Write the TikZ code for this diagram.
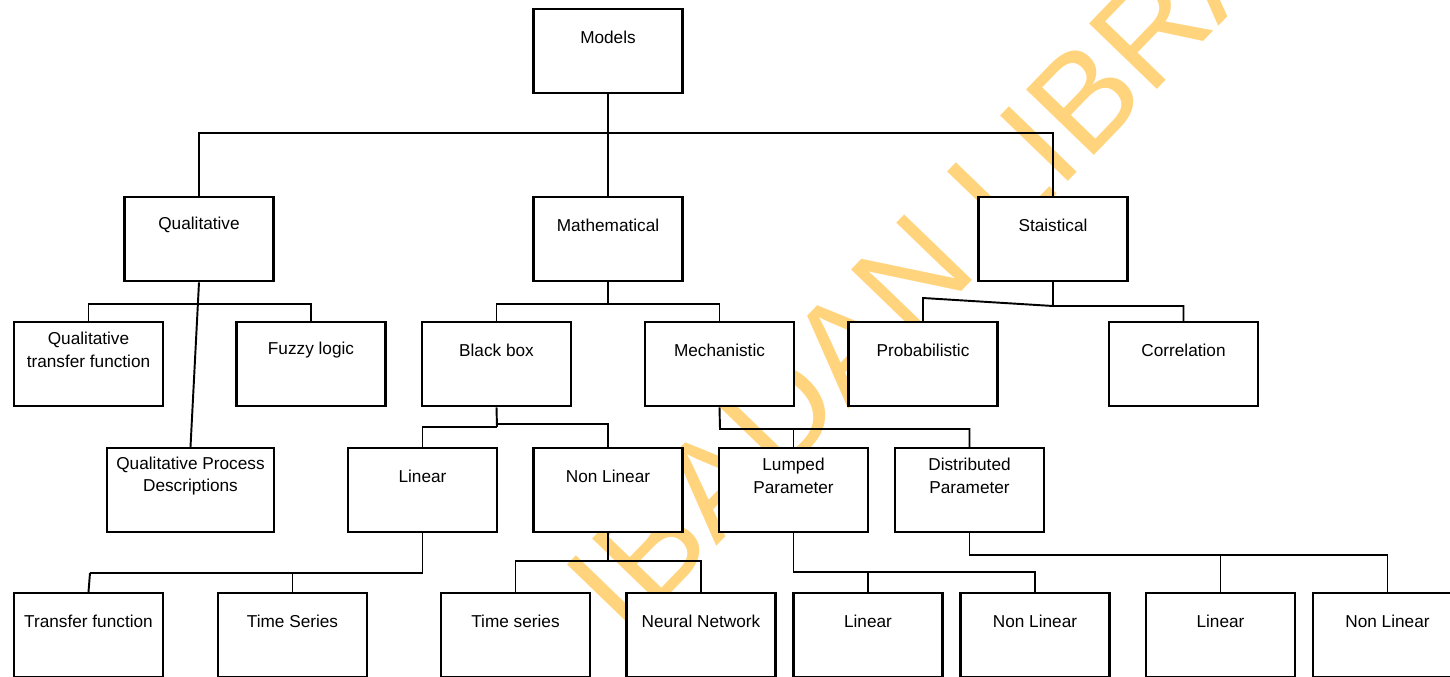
\documentclass[tikz,border=0pt]{standalone}
\usepackage{fontspec}
\setmainfont{Liberation Sans}
\usepackage{tikz}
\definecolor{wmorange}{RGB}{255,212,125}
% box with its text set near the top edge
\newcommand{\modelbox}[5][]{
    \node[box,#1] (#2) at (#3,#4) {};
    \node[boxtext] (#2-txt) at (#3,#4+29) {#5};
}

\begin{document}
\begin{tikzpicture}[x=0.02cm,y=-0.02cm,
    box/.style={draw,fill=white,line width=1.4pt,anchor=north,inner sep=0pt,
        minimum width=2.98cm,minimum height=1.68cm},
    boxtext/.style={align=center,inner sep=0pt,font=\fontsize{9.8}{13}\selectfont},
    link/.style={line width=1.1pt},
    thinlink/.style={line width=0.8pt},
    watermark/.style={text=wmorange,inner sep=0pt,font=\fontsize{78}{80}\selectfont}]
    \clip (0,0) rectangle (1450,676);

    \node[watermark,anchor=base west,rotate=46] (wm) at (626,640) {IBADAN LIBRARY};

    \modelbox{models}{608}{8}{Models}

    \modelbox{qual}{199}{196}{Qualitative}
    \modelbox{math}{608}{196}{Mathematical}
    \modelbox{stat}{1053}{196}{Staistical}

    \modelbox{qtf}{88.5}{321}{Qualitative\\transfer function}
    \modelbox{fuzzy}{311}{321}{Fuzzy logic}
    \modelbox{bbox}{496.5}{321}{Black box}
    \modelbox{mech}{719.5}{321}{Mechanistic}
    \modelbox{prob}{923}{321}{Probabilistic}
    \modelbox{corr}{1183.5}{321}{Correlation}

    \modelbox[minimum width=3.34cm]{qpd}{190.5}{447}{Qualitative Process\\Descriptions}
    \modelbox{lin}{422.5}{447}{Linear}
    \modelbox{nonlin}{608}{447}{Non Linear}
    \modelbox{lump}{793.5}{447}{Lumped\\Parameter}
    \modelbox{dist}{969.5}{447}{Distributed\\Parameter}

    \modelbox{tf}{88.5}{592}{Transfer function}
    \modelbox{ts}{292.5}{592}{Time Series}
    \modelbox{tser}{515.5}{592}{Time series}
    \modelbox{nn}{701}{592}{Neural Network}
    \modelbox{llin}{868}{592}{Linear}
    \modelbox{lnl}{1035}{592}{Non Linear}
    \modelbox{dlin}{1220.5}{592}{Linear}
    \modelbox{dnl}{1387.5}{592}{Non Linear}

    % Models
    \coordinate (top-bus) at (608,133);
    \draw[link] (models.south) -- (top-bus);
    \draw[link] (qual.north) |- (top-bus) -| (stat.north);
    \draw[link] (top-bus) -- (math.north);

    % Qualitative
    \coordinate (qual-bus) at (200,304);
    \draw[link] (qtf.north) |- (qual-bus) -| (fuzzy.north);
    \draw[link] (qual.south) -- (qpd.north);

    % Mathematical
    \coordinate (math-bus) at (608,304);
    \draw[link] (math.south) -- (math-bus);
    \draw[link] (bbox.north) |- (math-bus) -| (mech.north);

    % Staistical
    \coordinate (stat-bus) at (1053,306);
    \coordinate (prob-bend) at (923,298);
    \draw[link] (stat.south) -- (stat-bus);
    \draw[link] (prob.north) -- (prob-bend) -- (stat-bus) -| (corr.north);

    % Black box
    \coordinate (bbox-bus) at (497,427);
    \coordinate (bbox-bus2) at (497,424);
    \draw[link] (bbox.south) -- (bbox-bus);
    \draw[link] (lin.north) |- (bbox-bus);
    \draw[link] (bbox-bus2) -| (nonlin.north);

    % Mechanistic
    \coordinate (mech-bus) at (720,429);
    \draw[link] (mech.south) -- (mech-bus) -| (dist.north);
    \draw[link] (lump.north) -- (lump.north |- mech-bus);

    % Linear
    \coordinate (lin-bus) at (422.5,573);
    \coordinate (tf-bend) at (90,573);
    \draw[thinlink] (lin.south) -- (lin-bus) -- (tf-bend);
    \draw[link] (tf-bend) -- (tf.north);
    \draw[link] (ts.north) -- (ts.north |- lin-bus);

    % Non Linear
    \coordinate (nonlin-bus) at (608,561);
    \draw[link] (nonlin.south) -- (nonlin-bus);
    \draw[link] (tser.north) |- (nonlin-bus) -| (nn.north);

    % Lumped Parameter
    \coordinate (lump-bus) at (793.5,572);
    \draw[link] (lump.south) -- (lump-bus) -| (lnl.north);
    \draw[link] (llin.north) -- (llin.north |- lump-bus);

    % Distributed Parameter
    \coordinate (dist-bus) at (969.5,555);
    \draw[link] (dist.south) -- (dist-bus) -| (dnl.north);
    \draw[link] (dlin.north) -- (dlin.north |- dist-bus);
\end{tikzpicture}
\end{document}
